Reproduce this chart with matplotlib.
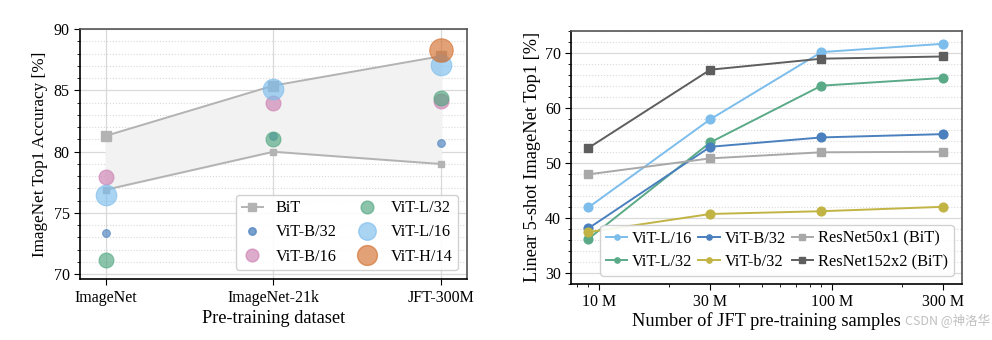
import matplotlib
matplotlib.use('Agg')
import matplotlib.pyplot as plt
from matplotlib.lines import Line2D
from matplotlib.ticker import MultipleLocator, FixedLocator, NullFormatter
import numpy as np

plt.rcParams['font.family'] = ['Liberation Serif', 'DejaVu Serif']
plt.rcParams['mathtext.fontset'] = 'stix'

# ── Data: left panel ───────────────────────────────────────────────
datasets = ['ImageNet', 'ImageNet-21k', 'JFT-300M']
bit_upper = [81.3, 85.4, 87.8]
bit_lower = [76.9, 80.0, 79.0]

vit_names = ['ViT-B/32', 'ViT-B/16', 'ViT-L/32', 'ViT-L/16', 'ViT-H/14']
vit_b32 = [73.4, 81.3, 80.7]
vit_b16 = [77.9, 84.0, 84.15]
vit_l32 = [71.2, 81.0, 84.4]
vit_l16 = [76.5, 85.15, 87.1]
vit_h14 = [None, None, 88.3]

# ── Data: right panel ──────────────────────────────────────────────
samples = [9e6, 30e6, 90e6, 300e6]
r_vit_l16 = [41.9, 57.9, 70.1, 71.6]
r_vit_l32 = [36.2, 53.7, 64.0, 65.4]
r_vit_b32 = [38.1, 52.9, 54.6, 55.2]
r_vit_b32s = [37.4, 40.7, 41.2, 42.0]
r_rn50 = [47.9, 50.8, 51.9, 52.0]
r_rn152 = [52.7, 66.9, 68.9, 69.3]

# ── Styles ─────────────────────────────────────────────────────────
C_B32 = '#4a80bd'
C_B16 = '#cc7fb0'
C_L32 = '#4fa57f'
C_L16 = '#7cbdec'
C_H14 = '#d36f2e'
C_BIT = '#b3b3b3'
C_OLIVE = '#c2b444'
C_DARK = '#5e5e5e'
GRID = '#d9d9d9'

fig = plt.figure(figsize=(9.92, 3.40), dpi=100, facecolor='white')
ax1 = fig.add_axes([0.0806, 0.179, 0.390, 0.735])
ax2 = fig.add_axes([0.576, 0.165, 0.3935, 0.745])

# ── Left panel ─────────────────────────────────────────────────────
x = np.arange(len(datasets))
ax1.fill_between(x, bit_lower, bit_upper, color='#f2f2f2', zorder=1)
ax1.plot(x, bit_upper, color=C_BIT, lw=1.4, marker='s', ms=7.5, zorder=2)
ax1.plot(x, bit_lower, color=C_BIT, lw=1.4, marker='s', ms=5, zorder=2)

series = [(vit_b32, C_B32, 31), (vit_b16, C_B16, 115), (vit_l32, C_L32, 115),
          (vit_l16, C_L16, 220), (vit_h14, C_H14, 285)]
for name, (vals, col, s) in zip(vit_names, series):
    xs = [i for i, v in enumerate(vals) if v is not None]
    ys = [v for v in vals if v is not None]
    ax1.scatter(xs, ys, s=s, color=col, alpha=0.65, edgecolors=col,
                linewidths=0.8, zorder=3)

ax1.set_xlim(-0.155, 2.155)
ax1.set_ylim(69.6, 90)
ax1.set_xticks(x)
ax1.set_xticklabels(datasets)
ax1.yaxis.set_major_locator(MultipleLocator(5))
ax1.yaxis.set_minor_locator(MultipleLocator(1))
ax1.grid(which='major', color=GRID, lw=0.9, zorder=0)
ax1.grid(which='minor', axis='y', color=GRID, lw=0.8, ls=':', zorder=0)
ax1.set_axisbelow(True)
ax1.set_xlabel('Pre-training dataset', fontsize=13.2, labelpad=3)
ax1.set_ylabel('ImageNet Top1 Accuracy [%]', fontsize=12.3, labelpad=4)

handles1 = [
    Line2D([0], [0], color=C_BIT, lw=1.4, marker='s', ms=6, label='BiT'),
    Line2D([0], [0], color=C_B32, ls='none', marker='o', ms=5.4, alpha=0.75, label='ViT-B/32'),
    Line2D([0], [0], color=C_B16, ls='none', marker='o', ms=9.2, alpha=0.65, label='ViT-B/16'),
    Line2D([0], [0], color=C_L32, ls='none', marker='o', ms=9.2, alpha=0.65, label='ViT-L/32'),
    Line2D([0], [0], color=C_L16, ls='none', marker='o', ms=12.6, alpha=0.65, label='ViT-L/16'),
    Line2D([0], [0], color=C_H14, ls='none', marker='o', ms=14.3, alpha=0.65, label='ViT-H/14'),
]
ax1.legend(handles=handles1, ncol=2, loc='lower right', fontsize=11.7,
           framealpha=0.9, edgecolor='#cccccc', borderaxespad=0.55,
           handlelength=1.3, handletextpad=0.8, columnspacing=1.2,
           labelspacing=0.5, borderpad=0.35)

# ── Right panel ────────────────────────────────────────────────────
kw = dict(lw=1.4, ms=6.3)
ax2.plot(samples, r_vit_l16, color=C_L16, marker='o', label='ViT-L/16', **kw)
ax2.plot(samples, r_vit_l32, color='#5aaa88', marker='o', label='ViT-L/32', **kw)
ax2.plot(samples, r_vit_b32, color=C_B32, marker='o', label='ViT-B/32', **kw)
ax2.plot(samples, r_vit_b32s, color=C_OLIVE, marker='o', label='ViT-b/32', **kw)
ax2.plot(samples, r_rn50, color='#a8a8a8', marker='s', label='ResNet50x1 (BiT)', **kw)
ax2.plot(samples, r_rn152, color=C_DARK, marker='s', label='ResNet152x2 (BiT)', **kw)

ax2.set_xscale('log')
ax2.set_xlim(7.6e6, 3.6e8)
ax2.set_ylim(28, 74)
ax2.xaxis.set_major_locator(FixedLocator([1e7, 3e7, 1e8, 3e8]))
ax2.set_xticklabels(['10 M', '30 M', '100 M', '300 M'])
ax2.xaxis.set_minor_locator(FixedLocator([8e6, 9e6, 2e7, 4e7, 5e7, 6e7, 7e7, 8e7, 9e7, 2e8]))
ax2.xaxis.set_minor_formatter(NullFormatter())
ax2.yaxis.set_major_locator(MultipleLocator(10))
ax2.yaxis.set_minor_locator(MultipleLocator(2))
ax2.grid(which='major', axis='y', color=GRID, lw=0.9)
ax2.grid(which='minor', axis='y', color=GRID, lw=0.8, ls=':')
ax2.set_axisbelow(True)
ax2.set_xlabel('Number of JFT pre-training samples', fontsize=13.2, labelpad=1)
ax2.set_ylabel('Linear 5-shot ImageNet Top1 [%]', fontsize=13.2, labelpad=3)

h, l = ax2.get_legend_handles_labels()
ax2.legend(handles=h, ncol=3, loc='lower right', fontsize=11.8,
           framealpha=0.9, edgecolor='#cccccc', borderaxespad=0.5,
           handlelength=1.3, handletextpad=0.3, columnspacing=0.35,
           labelspacing=0.45, borderpad=0.35, markerscale=0.6)

for ax in (ax1, ax2):
    ax.tick_params(which='major', labelsize=11.5, length=4, width=0.8, direction='out')
    ax.tick_params(which='minor', length=2, width=0.6)
    for sp in ax.spines.values():
        sp.set_color('#555555')
        sp.set_linewidth(1.2)
    ax.spines['left'].set_color('black')
    ax.spines['bottom'].set_color('black')

fig.text(0.912, 0.035, 'CSDN @神洛华', fontsize=9, color='#c0c0c0',
         family=['Noto Sans CJK SC', 'DejaVu Sans'], ha='left', va='bottom')

fig.savefig('out.png', dpi=100, facecolor='white')
